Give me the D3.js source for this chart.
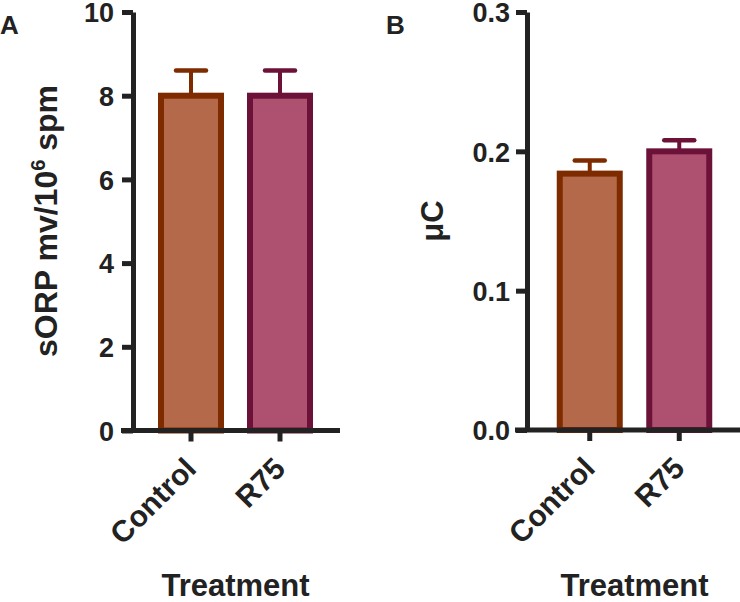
<!DOCTYPE html>
<html>
<head>
<meta charset="utf-8">
<script src="https://cdn.jsdelivr.net/npm/d3@7"></script>
<style>
  body { margin: 0; background: #fff; }
  svg text { font-family: "Liberation Sans", Arial, sans-serif; font-weight: bold; fill: #222; }
</style>
</head>
<body>
<svg id="chart" width="740" height="602"></svg>
<script>
// data
var categories = ["Control", "R75"];
var sorpMean = [8.0, 8.0];
var sorpErr = [0.6, 0.6];
var ucMean = [0.184, 0.2];
var ucErr = [0.0095, 0.008];
var sorpTicks = [0, 2, 4, 6, 8, 10];
var ucTicks = [0, 0.1, 0.2, 0.3];

var fills = ["#b5694b", "#ae5070"];
var strokes = ["#7e2b00", "#6c1239"];
var ink = "#222";

var svg = d3.select("#chart");

function drawPanel(opt) {
  var g = svg.append("g");

  var y = d3.scaleLinear().domain(opt.domain).range([opt.bottom, 12]);
  var x = d3.scaleBand().domain(categories).range(opt.xRange).padding(0);

  // bars
  var barW = 60;
  g.selectAll("rect.bar")
    .data(opt.mean)
    .enter().append("rect")
    .attr("class", "bar")
    .attr("x", function(d, i) { return x(categories[i]) + x.bandwidth() / 2 - barW / 2; })
    .attr("y", function(d) { return y(d); })
    .attr("width", barW)
    .attr("height", function(d) { return y(0) - y(d); })
    .attr("fill", function(d, i) { return fills[i]; })
    .attr("stroke", function(d, i) { return strokes[i]; })
    .attr("stroke-width", 6);

  // error bars (upper half only)
  g.selectAll("line.err")
    .data(opt.mean)
    .enter().append("line")
    .attr("x1", function(d, i) { return x(categories[i]) + x.bandwidth() / 2; })
    .attr("x2", function(d, i) { return x(categories[i]) + x.bandwidth() / 2; })
    .attr("y1", function(d) { return y(d) - 2; })
    .attr("y2", function(d, i) { return y(d + opt.err[i]); })
    .attr("stroke", function(d, i) { return strokes[i]; })
    .attr("stroke-width", 4);

  g.selectAll("line.cap")
    .data(opt.mean)
    .enter().append("line")
    .attr("x1", function(d, i) { return x(categories[i]) + x.bandwidth() / 2 - 15; })
    .attr("x2", function(d, i) { return x(categories[i]) + x.bandwidth() / 2 + 15; })
    .attr("y1", function(d, i) { return y(d + opt.err[i]); })
    .attr("y2", function(d, i) { return y(d + opt.err[i]); })
    .attr("stroke", function(d, i) { return strokes[i]; })
    .attr("stroke-width", 4.5)
    .attr("stroke-linecap", "round");

  // y axis
  var yAxis = g.append("g")
    .attr("transform", "translate(" + opt.axisX + ",0)")
    .call(d3.axisLeft(y).tickValues(opt.ticks).tickFormat(opt.fmt).tickSize(11).tickSizeOuter(0).tickPadding(opt.pad));
  yAxis.select(".domain").attr("stroke", ink).attr("stroke-width", 5);
  yAxis.selectAll(".tick line").attr("stroke", ink).attr("stroke-width", 5);
  yAxis.selectAll(".tick text").style("font-size", "27px").attr("fill", ink).attr("dy", "0.36em");

  // x axis
  var xAxis = g.append("g")
    .attr("transform", "translate(0," + opt.bottom + ")")
    .call(d3.axisBottom(x).tickSize(11).tickSizeOuter(0));
  xAxis.select(".domain").remove();
  xAxis.append("line")
    .attr("x1", opt.axisX - 12)
    .attr("x2", opt.xEnd)
    .attr("stroke", ink)
    .attr("stroke-width", 5);
  xAxis.selectAll(".tick line").attr("stroke", ink).attr("stroke-width", 5);
  xAxis.selectAll(".tick text")
    .style("font-size", "30px")
    .attr("fill", ink)
    .attr("text-anchor", "end")
    .attr("dy", null)
    .attr("y", 0)
    .attr("transform", "translate(7,40) rotate(-45)");

  // x title
  var mid = (x(categories[0]) + x(categories[1]) + x.bandwidth()) / 2;
  g.append("text")
    .attr("x", mid)
    .attr("y", 596)
    .attr("text-anchor", "middle")
    .style("font-size", "31px")
    .text("Treatment");

  // panel letter
  g.append("text")
    .attr("x", opt.letterX)
    .attr("y", 34)
    .style("font-size", "26px")
    .text(opt.letter);

  return g;
}

var gA = drawPanel({
  domain: [0, 10], ticks: sorpTicks, fmt: d3.format("d"), pad: 8,
  mean: sorpMean, err: sorpErr,
  axisX: 133, bottom: 430.5, xRange: [146.5, 324.5], xEnd: 340,
  letter: "A", letterX: 0
});

var tA = gA.append("text")
  .attr("transform", "translate(57,221) rotate(-90)")
  .attr("text-anchor", "middle")
  .style("font-size", "32px");
tA.append("tspan").text("sORP mv/10");
tA.append("tspan").attr("dy", -12).style("font-size", "20px").text("6");
tA.append("tspan").attr("dy", 12).text(" spm");

var gB = drawPanel({
  domain: [0, 0.3], ticks: ucTicks, fmt: d3.format(".1f"), pad: 6,
  mean: ucMean, err: ucErr,
  axisX: 527, bottom: 430, xRange: [545, 724], xEnd: 740,
  letter: "B", letterX: 386
});

gB.append("text")
  .attr("transform", "translate(443,221) rotate(-90)")
  .attr("text-anchor", "middle")
  .style("font-size", "31px")
  .text("μC");
</script>
</body>
</html>
